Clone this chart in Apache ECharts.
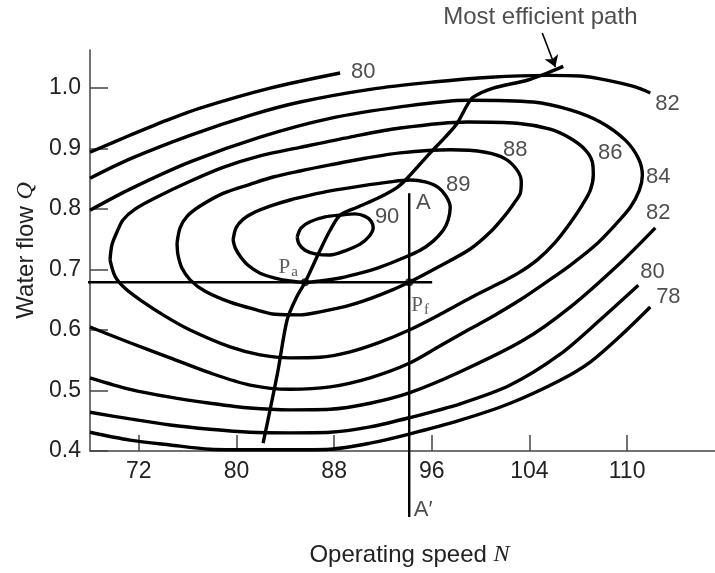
<!DOCTYPE html>
<html>
<head>
<meta charset="utf-8">
<script src="https://cdn.jsdelivr.net/npm/echarts@6/dist/echarts.min.js"></script>
<style>
  html, body { margin: 0; padding: 0; background: #fff; }
  #chart { width: 715px; height: 573px; }
</style>
</head>
<body>
<div id="chart"></div>
<script>
// axis ticks (the last tick sits at 112 but is printed as 110 in the original)
const tickN = [72, 80, 88, 96, 104, 112];
const tickNLabels = ['72', '80', '88', '96', '104', '110'];
const tickQ = [0.4, 0.5, 0.6, 0.7, 0.8, 0.9, 1.0];

// efficiency contours, [speed N, flow Q]
const c80top = [[68, 0.894], [71.28, 0.922], [74.31, 0.947], [77.02, 0.967], [82.75, 1.000], [88.49, 1.025]];
const c82top = [[68, 0.851], [71.28, 0.883], [76.20, 0.922], [81.11, 0.955], [85.21, 0.977], [90.95, 0.998],
  [96.11, 1.010], [100.79, 1.018], [105.46, 1.021], [108.16, 1.020], [110.62, 1.012], [112.67, 1.002],
  [113.90, 0.992]];
const c84 = [[68, 0.798], [71.28, 0.833], [76.20, 0.878], [81.93, 0.919], [87.67, 0.950], [93.41, 0.969],
  [98.90, 0.980], [104.31, 0.977], [107.34, 0.964], [109.80, 0.944], [111.85, 0.914], [112.92, 0.884],
  [113.25, 0.856], [113.00, 0.831], [112.26, 0.803], [111.03, 0.774], [109.39, 0.740], [107.34, 0.707],
  [105.30, 0.678], [103.25, 0.650], [101.20, 0.625], [99.15, 0.602], [96.69, 0.574], [94.15, 0.545],
  [90.95, 0.521], [87.67, 0.506], [84.39, 0.502], [81.11, 0.509], [77.84, 0.529], [74.56, 0.554],
  [71.28, 0.579], [68, 0.605]];
const c86 = [[69.64, 0.716], [69.80, 0.741], [70.21, 0.762], [70.70, 0.782], [71.69, 0.800], [73.49, 0.820],
  [76.20, 0.846], [78.90, 0.869], [81.93, 0.888], [85.21, 0.902], [89.31, 0.919], [93.41, 0.934],
  [98.90, 0.944], [103.00, 0.942], [105.70, 0.932], [107.34, 0.917], [108.57, 0.898], [109.15, 0.878],
  [109.23, 0.856], [108.98, 0.831], [108.33, 0.807], [107.34, 0.777], [106.11, 0.745], [104.64, 0.716],
  [103.08, 0.694], [101.61, 0.678], [99.15, 0.653], [96.69, 0.626], [94.15, 0.600], [91.77, 0.580],
  [89.31, 0.564], [86.85, 0.555], [84.39, 0.554], [81.93, 0.559], [79.48, 0.572], [76.20, 0.600],
  [74.15, 0.623], [72.10, 0.650], [70.87, 0.669], [70.05, 0.689], [69.64, 0.716]];
const c88 = [[75.13, 0.744], [75.38, 0.769], [75.95, 0.788], [77.02, 0.805], [78.90, 0.826], [81.11, 0.841],
  [83.00, 0.853], [85.21, 0.863], [87.67, 0.873], [90.54, 0.884], [93.41, 0.893], [97.51, 0.898],
  [100.38, 0.894], [102.02, 0.883], [103.00, 0.864], [103.33, 0.845], [103.25, 0.826], [102.75, 0.810],
  [102.02, 0.790], [100.79, 0.762], [99.15, 0.734], [96.69, 0.706], [94.15, 0.679], [91.77, 0.658],
  [89.31, 0.641], [86.85, 0.630], [85.21, 0.625], [83.16, 0.626], [81.69, 0.633], [79.48, 0.646],
  [77.43, 0.664], [76.20, 0.683], [75.54, 0.702], [75.21, 0.724], [75.13, 0.744]];
const c89 = [[79.72, 0.749], [79.97, 0.769], [80.54, 0.783], [81.52, 0.795], [82.75, 0.805], [84.39, 0.815],
  [86.03, 0.823], [87.67, 0.830], [90.13, 0.838], [92.59, 0.845], [94.23, 0.848], [95.46, 0.845],
  [96.52, 0.836], [97.18, 0.821], [97.51, 0.803], [97.34, 0.782], [96.93, 0.765], [96.11, 0.747],
  [95.05, 0.732], [93.41, 0.717], [91.77, 0.704], [90.13, 0.694], [88.49, 0.686], [86.85, 0.681],
  [85.62, 0.679], [84.39, 0.681], [83.16, 0.686], [81.93, 0.694], [80.95, 0.707], [80.30, 0.722],
  [79.89, 0.736], [79.72, 0.749]];
const c90 = [[84.97, 0.754], [85.30, 0.769], [86.03, 0.779], [87.26, 0.787], [88.49, 0.790], [89.72, 0.792],
  [90.54, 0.788], [91.03, 0.780], [91.20, 0.769], [90.87, 0.755], [90.13, 0.742], [88.90, 0.731],
  [87.67, 0.724], [86.44, 0.726], [85.62, 0.732], [85.13, 0.742], [84.97, 0.754]];
const c82low = [[68, 0.521], [71.28, 0.502], [74.56, 0.489], [77.84, 0.479], [81.11, 0.471], [84.39, 0.468],
  [87.67, 0.469], [90.95, 0.479], [94.15, 0.496], [98.33, 0.531], [103.49, 0.583], [107.34, 0.638],
  [111.44, 0.711], [114.31, 0.769]];
const c80low = [[68, 0.464], [71.28, 0.453], [74.56, 0.443], [77.84, 0.436], [81.11, 0.431], [84.39, 0.430],
  [87.67, 0.431], [90.95, 0.440], [94.15, 0.455], [98.33, 0.478], [102.43, 0.509], [106.52, 0.560],
  [109.80, 0.617], [112.92, 0.674]];
const c78 = [[68, 0.431], [71.28, 0.418], [74.56, 0.410], [77.84, 0.403], [81.11, 0.402], [84.39, 0.402],
  [87.67, 0.403], [90.95, 0.413], [94.15, 0.428], [98.33, 0.451], [102.43, 0.479], [106.52, 0.517],
  [108.98, 0.547], [111.44, 0.590], [113.90, 0.638]];

// most efficient path
const bestPath = [[82.18, 0.413], [82.75, 0.468], [83.41, 0.534], [84.15, 0.617], [84.89, 0.653], [85.62, 0.679],
  [86.85, 0.732], [87.67, 0.765], [88.49, 0.790], [89.89, 0.803], [91.77, 0.820], [93.17, 0.836],
  [93.99, 0.851], [95.87, 0.893], [97.10, 0.919], [98.08, 0.942], [98.90, 0.972], [99.39, 0.985],
  [101.03, 1.000], [103.82, 1.013], [105.46, 1.025], [106.77, 1.036]];

// guide lines through Pa / Pf and the A-A' line
const lineQ = [[65.95, 0.679], [96.03, 0.679]];
const lineAA = [[94.15, 0.826], [94.15, 0.291]];
const pointsPaPf = [[85.62, 0.679], [94.15, 0.679]];
const arrowLine = [[105.05, 1.091], [106.12, 1.035]];

// text labels [N, Q, text]
const contourLabels = [
  [90.38, 1.026, '80'], [115.30, 0.974, '82'], [102.84, 0.898, '88'], [110.62, 0.893, '86'],
  [114.56, 0.853, '84'], [114.56, 0.793, '82'], [114.07, 0.696, '80'], [115.38, 0.655, '78'],
  [98.16, 0.840, '89'], [92.34, 0.787, '90'], [95.30, 0.810, 'A'], [95.30, 0.302, 'A′']
];
const noteLabel = [[104.89, 1.117, 'Most efficient path']];
const pointLabels = [[84.23, 0.704, '{p|P}{s|a}'], [95.05, 0.641, '{p|P}{s|f}']];

const chart = echarts.init(document.getElementById('chart'));

function contour(data) {
  return {
    type: 'line', data: data, smooth: 0.3, showSymbol: false, symbol: 'none', silent: true,
    lineStyle: { color: '#000', width: 3.4 }, z: 3
  };
}

function textLayer(data, size) {
  return {
    type: 'scatter', data: data, symbolSize: 0, clip: false, silent: true, z: 6,
    label: {
      show: true, position: 'inside', formatter: p => p.data[2],
      fontSize: size, color: '#222', fontFamily: font
    }
  };
}

const font = 'Liberation Sans, Arial, sans-serif';
const italic = { fontSize: 24, fontStyle: 'italic', fontFamily: 'Liberation Serif, serif', color: '#222' };

let option = {
  animation: false,
  grid: { left: 90, right: 0, top: 50, bottom: 122 },
  xAxis: {
    type: 'value', min: 68, max: 119.2,
    name: 'Operating speed {it|N}', nameLocation: 'middle', nameGap: 92,
    nameTextStyle: { fontSize: 24, color: '#222', fontFamily: font, padding: [0, 0, 0, 14], rich: { it: italic } },
    axisLine: { lineStyle: { color: '#444', width: 1.5 } },
    axisTick: { inside: true, length: 16, customValues: tickN, lineStyle: { color: '#444', width: 1.5 } },
    axisLabel: {
      customValues: tickN, fontSize: 23, color: '#222', fontFamily: font, margin: 9,
      formatter: v => tickNLabels[tickN.indexOf(v)]
    },
    splitLine: { show: false }
  },
  yAxis: {
    type: 'value', min: 0.4, max: 1.063,
    name: 'Water flow {it|Q}', nameLocation: 'middle', nameGap: 50,
    nameTextStyle: { fontSize: 24, color: '#222', fontFamily: font, rich: { it: italic } },
    axisLine: { show: true, lineStyle: { color: '#444', width: 1.5 } },
    axisTick: { show: true, inside: true, length: 18, customValues: tickQ, lineStyle: { color: '#444', width: 1.5 } },
    axisLabel: {
      customValues: tickQ, fontSize: 23, color: '#222', fontFamily: font, margin: 9,
      formatter: v => v.toFixed(1)
    },
    splitLine: { show: false }
  },
  series: [
    contour(c80top), contour(c82top), contour(c84), contour(c86), contour(c88),
    contour(c89), contour(c90), contour(c82low), contour(c80low), contour(c78),
    contour(bestPath),
    {
      type: 'lines', coordinateSystem: 'cartesian2d', clip: false, silent: true, z: 5,
      symbol: ['none', 'arrow'], symbolSize: 11,
      lineStyle: { color: '#000', width: 1.6, opacity: 1 },
      data: [{ coords: arrowLine }]
    },
    {
      type: 'line', data: lineQ, showSymbol: false, symbol: 'none', clip: false, silent: true,
      lineStyle: { color: '#000', width: 2.4 }, z: 4
    },
    {
      type: 'line', data: lineAA, showSymbol: false, symbol: 'none', clip: false, silent: true,
      lineStyle: { color: '#000', width: 2.4 }, z: 4
    },
    {
      type: 'scatter', data: pointsPaPf, symbolSize: 8, itemStyle: { color: '#000' }, silent: true, z: 5
    },
    textLayer(contourLabels, 22),
    textLayer(noteLabel, 24),
    {
      type: 'scatter', data: pointLabels, symbolSize: 0, clip: false, silent: true, z: 6,
      label: {
        show: true, position: 'inside', formatter: p => p.data[2],
        rich: {
          p: { fontSize: 21, fontFamily: 'Liberation Serif, serif', color: '#333' },
          s: { fontSize: 15, fontFamily: 'Liberation Serif, serif', color: '#333', padding: [10, 0, 0, 1] }
        }
      }
    }
  ]
};

chart.setOption(option);
</script>
</body>
</html>
